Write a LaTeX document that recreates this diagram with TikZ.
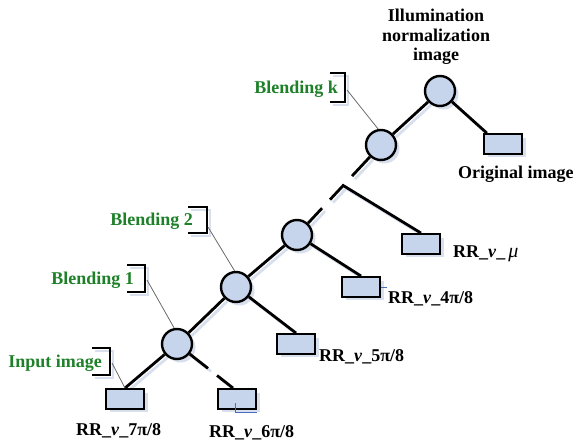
\documentclass[tikz,border=0pt]{standalone}
\usepackage{fontspec}
\setmainfont{Liberation Serif}
\usetikzlibrary{calc,shadows}
\definecolor{gtext}{RGB}{30,128,40}
\definecolor{nfill}{RGB}{199,213,236}
\definecolor{shcol}{RGB}{216,223,237}
\definecolor{leadcol}{RGB}{105,105,105}
\definecolor{artblue}{RGB}{70,110,190}
\pgfdeclarelayer{bg}
\pgfsetlayers{bg,main}
\newcommand\myconns[1]{%
  \draw[#1] (C1) -- (R7.north);
  \draw[#1] (C1) -- ($(C1)!0.553!(r6a)$);
  \draw[#1] ($(C1)!0.715!(r6a)$) -- (r6a);
  \draw[#1] (C1) -- (C2);
  \draw[#1] (C2) -- (R5.north);
  \draw[#1] (C2) -- (C3);
  \draw[#1] (C3) -- (R4.north);
  \draw[#1] (C3) -- ($(C3)!0.298!(Ck)$);
  \draw[#1] ($(C3)!0.393!(Ck)$) -- (J) -- (Rm.north);
  \draw[#1] ($(C3)!0.655!(Ck)$) -- (Ck);
  \draw[#1] (Ck) -- (Ct);
  \draw[#1] (Ct) -- (ro);
}
\newcommand\mybrackets[1]{%
  \draw[#1] (127,265) -| (145,292) -- (127,292);
  \draw[#1] (188,207) -| (207,233) -- (188,233);
  \draw[#1] (330,73) -| (345,102) -- (330,102);
  \draw[#1] (92,348) -| (110,375) -- (92,375);
}
\begin{document}
\begin{tikzpicture}[x=1pt,y=-1pt,
  nshadow/.style={drop shadow={shadow xshift=3.5pt, shadow yshift=-3.5pt, fill=shcol, opacity=1}},
  blend/.style={circle, draw=black, line width=2.4pt, fill=nfill, minimum size=30pt, inner sep=0pt, nshadow},
  img/.style={rectangle, draw=black, line width=2.4pt, fill=nfill, minimum width=38pt, minimum height=19.5pt, inner sep=0pt, nshadow},
  conn/.style={line width=2.8pt, black},
  shline/.style={line width=2.8pt, shcol},
  brk/.style={line width=2pt, black},
  shbrk/.style={line width=2pt, shcol},
  lead/.style={line width=0.8pt, leadcol},
  lbl/.style={font=\fontsize{18}{20}\selectfont\bfseries, inner sep=0pt, anchor=base west},
  glbl/.style={font=\fontsize{18}{20}\selectfont\bfseries, text=gtext, inner sep=0pt, anchor=base east}]
\useasboundingbox (0,0) rectangle (573,442);

% blending nodes
\node[blend] (C1) at (177,344) {};
\node[blend] (C2) at (236,287) {};
\node[blend] (C3) at (297,235) {};
\node[blend] (Ck) at (381,145) {};
\node[blend] (Ct) at (440,91) {};
% image boxes
\node[img] (R7) at (125,399) {};
\node[img] (R6) at (237,399) {};
\node[img] (R5) at (296,344) {};
\node[img] (R4) at (361,287) {};
\node[img] (Rm) at (421,244) {};
\node[img] (Ro) at (503,144) {};

\coordinate (r6a) at ($(R6.north)+(-4,0)$);
\coordinate (J) at ($(C3)!0.55!(Ck)$);
\coordinate (ro) at ($(Ro.north west)+(4,0)$);

\begin{pgfonlayer}{bg}
  \begin{scope}[transform canvas={shift={(3pt,-3pt)}}]
    \myconns{shline}
    \mybrackets{shbrk}
  \end{scope}
\end{pgfonlayer}
\myconns{conn}
\mybrackets{brk}

% leaders
\coordinate (l1) at (147,280);
\coordinate (l2) at (208,227);
\coordinate (lk) at (347,90);
\coordinate (li) at (112,363);
\draw[lead] (l1) -- (C1.100);
\draw[lead] (l2) -- (C2.95);
\draw[lead] (lk) -- (Ck.100);
\draw[lead] (li) -- (R7.north);

% small blue marks
\draw[artblue, line width=0.8pt] (235,403) -- (235,412) -- (257,412);
\draw[artblue, line width=0.8pt] (R4.east) -- ++(6,0);

% labels
\node[glbl] (g1) at (134,284) {Blending 1};
\node[glbl] (g2) at (193,225) {Blending 2};
\node[glbl] (gk) at (338,93) {Blending k};
\node[glbl] (gi) at (102,367) {Input image};

\node[lbl] (t7) at (76,435) {RR\_\textit{v}\_7π/8};
\node[lbl] (t6) at (209,437) {RR\_\textit{v}\_6π/8};
\node[lbl] (t5) at (319,361) {RR\_\textit{v}\_5π/8};
\node[lbl] (t4) at (388,303) {RR\_\textit{v}\_4π/8};
\node[lbl] (tm) at (453,257) {RR\_\textit{v}\_\,{\mdseries\itshape\fontsize{20}{20}\selectfont μ}};
\node[lbl] (to) at (458,178) {Original image};
\node[lbl, anchor=base] (i1) at (436,21) {Illumination};
\node[lbl, anchor=base] (i2) at (436,41) {normalization};
\node[lbl, anchor=base] (i3) at (436,60) {image};
\end{tikzpicture}
\end{document}
